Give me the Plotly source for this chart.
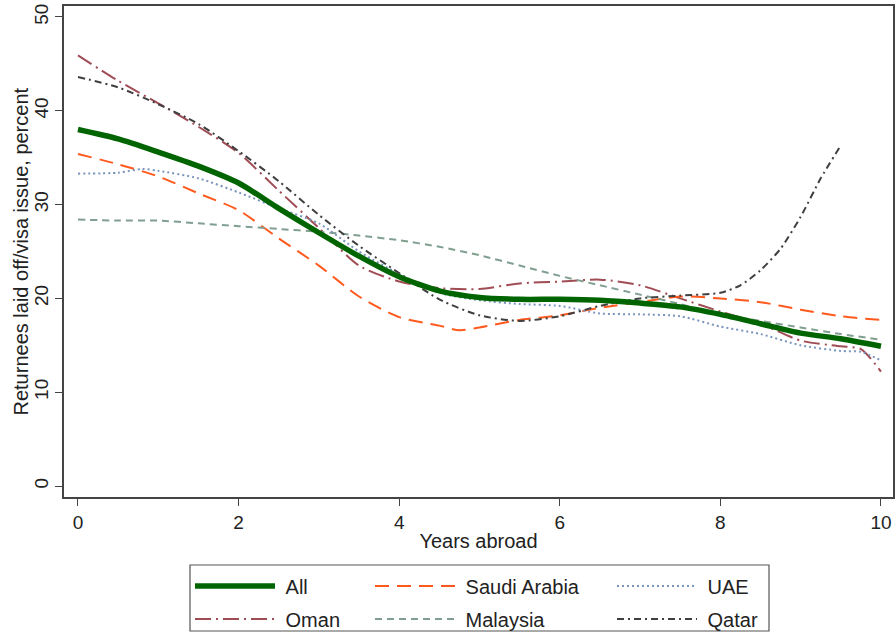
import plotly.graph_objects as go

# ---- data ----
t_all = [0, 0.5, 1, 1.5, 2, 2.5, 3, 3.5, 4, 4.5, 5, 5.5, 6, 6.5, 7, 7.5, 8, 8.5, 9, 9.5, 10]
all_v = [38.0, 37.0, 35.6, 34.1, 32.3, 29.6, 27.0, 24.5, 22.3, 20.8, 20.1, 19.9, 19.9, 19.8, 19.5, 19.1, 18.3, 17.3, 16.3, 15.7, 14.9]

t_oman = [0, 0.5, 1, 1.5, 2, 2.5, 3, 3.5, 4, 4.5, 5, 5.5, 6, 6.5, 7, 7.5, 8, 8.5, 9, 9.5, 9.75, 10]
oman_v = [45.9, 43.2, 40.8, 38.3, 35.5, 31.5, 27.5, 23.5, 21.8, 21.1, 21.0, 21.6, 21.8, 22.0, 21.4, 20.0, 18.6, 17.3, 15.5, 14.9, 14.6, 12.2]

t_saudi = [0, 0.5, 1, 1.5, 2, 2.5, 3, 3.5, 4, 4.5, 4.75, 5, 5.5, 6, 6.5, 7, 7.5, 8, 8.5, 9, 9.5, 10]
saudi_v = [35.4, 34.3, 33.0, 31.2, 29.4, 26.4, 23.5, 20.2, 18.0, 17.1, 16.6, 16.9, 17.7, 18.2, 19.0, 19.6, 20.2, 20.0, 19.6, 18.8, 18.1, 17.7]

t_malaysia = [0, 0.5, 1, 1.5, 2, 2.5, 3, 3.5, 4, 4.5, 5, 5.5, 6, 6.5, 7, 7.5, 8, 8.5, 9, 9.5, 10]
malaysia_v = [28.4, 28.3, 28.3, 28.0, 27.7, 27.4, 27.1, 26.7, 26.2, 25.5, 24.6, 23.5, 22.4, 21.4, 20.4, 19.4, 18.3, 17.6, 16.9, 16.2, 15.6]

t_uae = [0, 0.5, 0.8, 1, 1.5, 2, 2.5, 3, 3.5, 4, 4.5, 5, 5.5, 6, 6.5, 7, 7.5, 8, 8.5, 9, 9.5, 9.75, 10]
uae_v = [33.3, 33.4, 33.8, 33.6, 32.8, 31.3, 29.6, 28.0, 25.0, 22.6, 20.6, 19.8, 19.4, 19.2, 18.4, 18.3, 18.1, 17.0, 16.2, 15.0, 14.4, 14.3, 13.4]

t_qatar = [0, 0.5, 1, 1.5, 2, 2.5, 3, 3.5, 4, 4.5, 5, 5.5, 6, 6.5, 7, 7.5, 8, 8.25, 8.5, 8.75, 9, 9.25, 9.5]
qatar_v = [43.6, 42.5, 40.7, 38.6, 35.7, 32.5, 28.9, 25.6, 22.7, 19.9, 18.2, 17.6, 18.1, 19.2, 20.0, 20.3, 20.6, 21.4, 23.0, 25.3, 28.7, 32.8, 36.3]

x_ticks = [0, 2, 4, 6, 8, 10]
y_ticks = [0, 10, 20, 30, 40, 50]
x_title = "Years abroad"
y_title = "Returnees laid off/visa issue, percent"

FONT = "Liberation Sans, Arial, sans-serif"
TXT = "#222222"

W, H = 896, 632
ML, MR, MT, MB = 64, 3, 6, 135
PW, PH = W - ML - MR, H - MT - MB

def px_x(px):
    return (px - ML) / PW

def px_y(py):
    return (H - MB - py) / PH

series = [
    # name, x, y, color, width, dash, legend id, legend px x, legend px y
    ("Oman", t_oman, oman_v, "#a04c55", 2, "16px,5px,2px,5px", "legend4", 190, 619),
    ("Saudi Arabia", t_saudi, saudi_v, "#ff5a1e", 2, "14px,8px", "legend2", 370, 586),
    ("Malaysia", t_malaysia, malaysia_v, "#809f90", 2, "7px,5px", "legend5", 370, 619),
    ("UAE", t_uae, uae_v, "#7a95bd", 2, "2px,3px", "legend3", 612, 586),
    ("Qatar", t_qatar, qatar_v, "#3f3f3f", 2, "7px,4px,2px,4px", "legend6", 612, 619),
    ("All", t_all, all_v, "#006400", 5.5, "solid", "legend", 190, 586),
]

fig = go.Figure()
legends = {}
for name, xs, ys, col, w, dash, lg, lx, ly in series:
    fig.add_trace(go.Scatter(
        x=xs, y=ys, mode="lines", name="\u00a0" + name,
        line=dict(color=col, width=w, dash=dash, shape="spline", smoothing=0.7),
        legend=lg, showlegend=True,
    ))
    legends[lg] = dict(
        x=px_x(lx), y=px_y(ly), xanchor="left", yanchor="middle",
        xref="paper", yref="paper",
        bgcolor="rgba(0,0,0,0)", borderwidth=0,
        font=dict(family=FONT, size=20, color=TXT),
        itemwidth=80, orientation="v",
    )

fig.update_layout(**legends)

fig.update_layout(
    width=W, height=H,
    margin=dict(l=ML, r=MR, t=MT, b=MB, autoexpand=False),
    paper_bgcolor="white", plot_bgcolor="white",
    font=dict(family=FONT, size=19, color=TXT),
    showlegend=True,
    xaxis=dict(
        range=[-0.174, 10.15], tickvals=x_ticks, ticktext=[str(v) for v in x_ticks],
        showgrid=False, zeroline=False,
        showline=True, linecolor="#444444", linewidth=1.5, mirror=True,
        ticks="outside", ticklen=7, tickwidth=1.2, tickcolor="#444444",
        tickfont=dict(size=19, color=TXT),
        title=dict(text=x_title, font=dict(size=20, color=TXT), standoff=2),
    ),
    yaxis=dict(
        range=[-1.17, 51.17], tickvals=y_ticks, ticktext=[str(v) for v in y_ticks],
        showgrid=False, zeroline=False,
        showline=True, linecolor="#444444", linewidth=1.5, mirror=True,
        ticks="outside", ticklen=7, tickwidth=1.2, tickcolor="#444444",
        tickangle=-90,
        tickfont=dict(size=19, color=TXT),
    ),
    annotations=[dict(
        text=y_title, textangle=-90, xref="paper", yref="paper",
        x=px_x(20), y=0.5, xanchor="center", yanchor="middle",
        showarrow=False, font=dict(family=FONT, size=20, color=TXT),
    )],
    shapes=[dict(
        type="rect", xref="paper", yref="paper",
        x0=px_x(190), x1=px_x(769), y0=px_y(565), y1=px_y(631),
        line=dict(color="#555555", width=1.2), fillcolor="rgba(0,0,0,0)",
    )],
)

fig.write_html("out.html")
